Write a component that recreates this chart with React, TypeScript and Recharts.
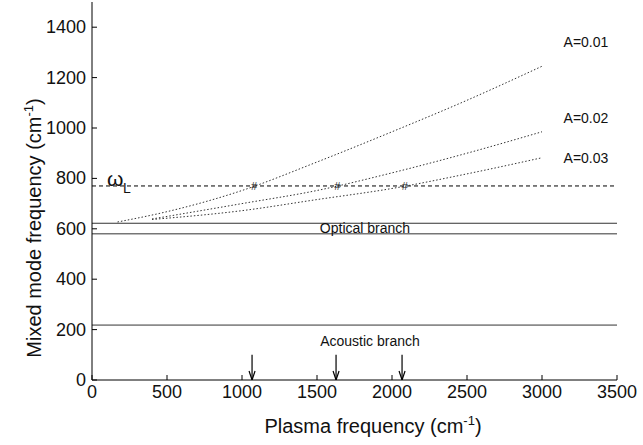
import React from 'react';
import {
  ComposedChart, Line, Scatter, XAxis, YAxis, ReferenceLine, ReferenceDot, Label,
} from 'recharts';

const FONT = '"Liberation Sans", Arial, Helvetica, sans-serif';

// Axis ticks
const xTicks = [0, 500, 1000, 1500, 2000, 2500, 3000, 3500];
const yTicks = [0, 200, 400, 600, 800, 1000, 1200, 1400];

// Mixed mode curves (plasma frequency -> mixed mode frequency)
const plasmaA1 = [170, 500, 1000, 1500, 2000, 2500, 3000];
const modeA1 = [627, 668, 752, 865, 985, 1110, 1245];
const plasmaA2 = [400, 1000, 1500, 2000, 2500, 3000];
const modeA2 = [639, 700, 752, 822, 900, 985];
const plasmaA3 = [400, 1000, 1500, 2000, 2500, 3000];
const modeA3 = [637, 672, 716, 760, 818, 882];

// Reference levels
const omegaL = 770;
const opticalBranch = [622, 580];
const acousticBranch = 218;

// Crossing markers and arrows
const crossX = [1080, 1635, 2085];
const arrowX = [1067, 1627, 2067];
const arrowTop = 100;

const seriesLabels = ['A=0.01', 'A=0.02', 'A=0.03'];
const seriesLabelY = [1341, 1039, 880];

const toPts = (xs: number[], ys: number[]) => xs.map((x, i) => ({ x, y: ys[i] }));

const LeftTick = (p: any) => (
  <g>
    <line x1={p.x + 4} x2={p.x + 9} y1={p.y} y2={p.y} stroke="#000" strokeWidth={1} />
    <text x={p.x - 2} y={p.y} dy={6} textAnchor="end" fontSize={18} fontFamily={FONT} fill="#111">
      {p.payload.value}
    </text>
  </g>
);

const BottomTick = (p: any) => (
  <g>
    <line x1={p.x} x2={p.x} y1={p.y - 4} y2={p.y - 9} stroke="#000" strokeWidth={1} />
    <text x={p.x} y={p.y} dy={14} textAnchor="middle" fontSize={18} fontFamily={FONT} fill="#111">
      {p.payload.value}
    </text>
  </g>
);

const XLabel = () => (
  <text x={373} y={433} textAnchor="middle" fontSize={20} fontFamily={FONT} fill="#111">
    <tspan>Plasma frequency (cm</tspan>
    <tspan dy={-8} fontSize={13}>-1</tspan>
    <tspan dy={8}>)</tspan>
  </text>
);

const YLabel = () => {
  const cx = 35;
  const cy = 228;
  return (
    <text
      x={cx}
      y={cy}
      transform={`rotate(-90 ${cx} ${cy})`}
      textAnchor="middle"
      dy={6}
      fontSize={20}
      fontFamily={FONT}
      fill="#111"
    >
      <tspan>Mixed mode frequency (cm</tspan>
      <tspan dy={-8} fontSize={13}>-1</tspan>
      <tspan dy={8}>)</tspan>
    </text>
  );
};

const textShape = (txt: string, size = 14) => (p: any) => (
  <text x={p.cx} y={p.cy} dy={size * 0.35} textAnchor="middle" fontSize={size} fontFamily={FONT} fill="#111">
    {txt}
  </text>
);

const OmegaShape = (p: any) => (
  <g>
    <text x={p.cx} y={p.cy} fontSize={21} fontFamily={FONT} fill="#111">ω</text>
    <text x={p.cx + 16} y={p.cy + 7} fontSize={14} fontFamily={FONT} fill="#111">L</text>
  </g>
);

const HashShape = (p: any) => (
  <text x={p.cx} y={p.cy} dy={4} textAnchor="middle" fontSize={11} fontFamily={FONT} fill="#222">#</text>
);

const ArrowHead = (p: any) => (
  <path
    d={`M ${p.cx - 3} ${p.cy - 9} L ${p.cx} ${p.cy} L ${p.cx + 3} ${p.cy - 9}`}
    stroke="#000"
    strokeWidth={1.2}
    fill="none"
  />
);

export default function App() {
  return (
    <div style={{ position: 'absolute', left: 0, top: 0, background: '#fff' }}>
      <ComposedChart
        width={643}
        height={445}
        margin={{ top: 2, right: 26, bottom: 0, left: 0 }}
      >
        <XAxis
          dataKey="x"
          type="number"
          domain={[0, 3500]}
          ticks={xTicks}
          allowDataOverflow
          height={65}
          tickSize={0}
          tickMargin={4}
          tickLine={false}
          tick={<BottomTick />}
          axisLine={{ stroke: '#000' }}
          label={<Label content={<XLabel />} />}
        />
        <XAxis
          xAxisId="t"
          orientation="top"
          type="number"
          domain={[0, 3500]}
          ticks={xTicks}
          allowDataOverflow
          height={0}
          mirror
          tick={false}
          tickSize={5}
          tickLine={{ stroke: '#000' }}
          axisLine={{ stroke: '#000' }}
        />
        <YAxis
          type="number"
          domain={[0, 1500]}
          ticks={yTicks}
          allowDataOverflow
          width={92}
          tickSize={0}
          tickMargin={4}
          tickLine={false}
          tick={<LeftTick />}
          axisLine={{ stroke: '#000' }}
          label={<Label content={<YLabel />} />}
        />
        <YAxis
          yAxisId="r"
          orientation="right"
          type="number"
          domain={[0, 1500]}
          ticks={yTicks}
          allowDataOverflow
          width={0}
          mirror
          tick={false}
          tickSize={5}
          tickLine={{ stroke: '#000' }}
          axisLine={{ stroke: '#000' }}
        />

        <ReferenceLine y={omegaL} stroke="#000" strokeWidth={1} strokeDasharray="4 3" />
        {opticalBranch.map((v, i) => (
          <ReferenceLine key={'o' + i} y={v} stroke="#333" strokeWidth={1} />
        ))}
        <ReferenceLine y={acousticBranch} stroke="#333" strokeWidth={1} />

        {arrowX.map((x, i) => (
          <ReferenceLine
            key={'a' + i}
            segment={[{ x, y: arrowTop }, { x, y: 0 }]}
            stroke="#000"
            strokeWidth={1.2}
          />
        ))}

        <Line
          data={toPts(plasmaA1, modeA1)}
          dataKey="y"
          type="monotone"
          stroke="#333"
          strokeWidth={1}
          strokeDasharray="1.5 2"
          dot={false}
          isAnimationActive={false}
        />
        <Line
          data={toPts(plasmaA2, modeA2)}
          dataKey="y"
          type="monotone"
          stroke="#333"
          strokeWidth={1}
          strokeDasharray="1.5 2"
          dot={false}
          isAnimationActive={false}
        />
        <Line
          data={toPts(plasmaA3, modeA3)}
          dataKey="y"
          type="monotone"
          stroke="#333"
          strokeWidth={1}
          strokeDasharray="1.5 2"
          dot={false}
          isAnimationActive={false}
        />

        <Scatter
          data={crossX.map((x) => ({ x, y: omegaL }))}
          dataKey="y"
          shape={HashShape}
          isAnimationActive={false}
        />
        <Scatter
          data={arrowX.map((x) => ({ x, y: 0 }))}
          dataKey="y"
          shape={ArrowHead}
          isAnimationActive={false}
        />

        {seriesLabels.map((s, i) => (
          <ReferenceDot key={s} x={3293} y={seriesLabelY[i]} r={0} shape={textShape(s)} />
        ))}
        <ReferenceDot x={1820} y={603} r={0} shape={textShape('Optical branch')} />
        <ReferenceDot x={1853} y={155} r={0} shape={textShape('Acoustic branch')} />
        <ReferenceDot x={100} y={omegaL} r={0} shape={OmegaShape} />
      </ComposedChart>
    </div>
  );
}
